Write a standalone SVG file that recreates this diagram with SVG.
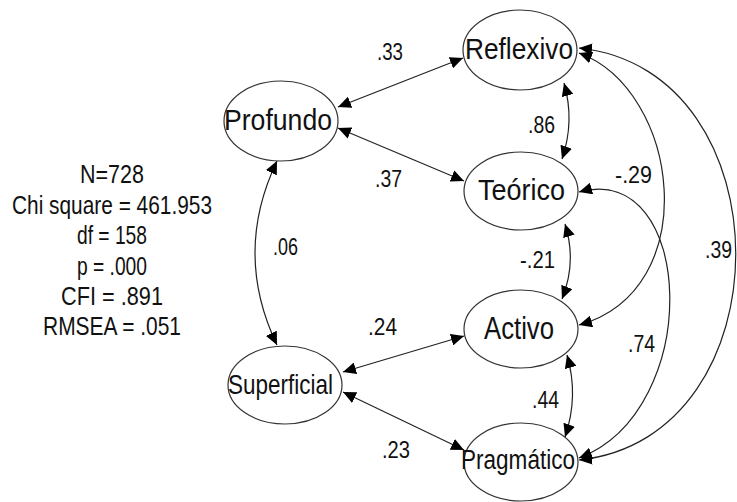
<svg xmlns="http://www.w3.org/2000/svg" width="737" height="502" viewBox="0 0 737 502">
<defs>
<marker id="ah" markerUnits="userSpaceOnUse" markerWidth="14" markerHeight="12" refX="13" refY="6" orient="auto-start-reverse">
<path d="M0,0 L13,6 L0,12 z" fill="#000"/>
</marker>
<style>
.n ellipse{fill:#fff;stroke:#333;stroke-width:1.2}
text{font-family:"Liberation Sans",Arial,sans-serif;fill:#111}
.lbl{text-anchor:start}
.num{font-size:23px}
.st{font-size:26px;text-anchor:middle}
.c path{fill:none;stroke:#222;stroke-width:1.2;marker-start:url(#ah);marker-end:url(#ah)}
</style>
</defs>
<rect width="737" height="502" fill="#fff"/>
<g id="stats">
<text class="st" x="112" y="183" textLength="64" lengthAdjust="spacingAndGlyphs">N=728</text>
<text class="st" x="112" y="213.5" textLength="200" lengthAdjust="spacingAndGlyphs">Chi square = 461.953</text>
<text class="st" x="112" y="244" textLength="70" lengthAdjust="spacingAndGlyphs">df = 158</text>
<text class="st" x="112" y="274.5" textLength="70" lengthAdjust="spacingAndGlyphs">p = .000</text>
<text class="st" x="112" y="305" textLength="102" lengthAdjust="spacingAndGlyphs">CFI = .891</text>
<text class="st" x="112" y="335" textLength="138" lengthAdjust="spacingAndGlyphs">RMSEA = .051</text>
</g>
<g class="c" id="connectors">
<path d="M338,107 L463,58"/>
<path d="M338,128 L464,181"/>
<path d="M343,372 L464,336"/>
<path d="M343,392 L464,450"/>
<path d="M277,161 Q233,253 277,345"/>
<path d="M564,83 Q575,121 562,159"/>
<path d="M565,224 Q577,262 562,299"/>
<path d="M567,355 Q579,396 565,437"/>
<path d="M579,53 C680,90 705,290 579,325"/>
<path d="M579,48 C788,70 788,438 579,460"/>
<path d="M579,192 C695,160 705,410 579,458"/>
</g>
<g id="Reflexivo" class="n"><ellipse cx="520" cy="50" rx="57" ry="40"/><text class="lbl" x="465" y="59" font-size="29" textLength="108" lengthAdjust="spacingAndGlyphs">Reflexivo</text></g>
<g id="Profundo" class="n"><ellipse cx="281" cy="121" rx="57" ry="40"/><text class="lbl" x="224" y="130" font-size="30" textLength="108" lengthAdjust="spacingAndGlyphs">Profundo</text></g>
<g id="Teorico" class="n"><ellipse cx="521" cy="191" rx="57" ry="39"/><text class="lbl" x="478" y="200" font-size="30" textLength="87" lengthAdjust="spacingAndGlyphs">Teórico</text></g>
<g id="Activo" class="n"><ellipse cx="521" cy="329" rx="57" ry="39"/><text class="lbl" x="484" y="339" font-size="31" textLength="70" lengthAdjust="spacingAndGlyphs">Activo</text></g>
<g id="Superficial" class="n"><ellipse cx="285" cy="385" rx="57" ry="39"/><text class="lbl" x="228" y="394" font-size="28" textLength="105" lengthAdjust="spacingAndGlyphs">Superficial</text></g>
<g id="Pragmatico" class="n"><ellipse cx="521" cy="462" rx="57" ry="39"/><text class="lbl" x="461" y="469" font-size="27" textLength="114" lengthAdjust="spacingAndGlyphs">Pragmático</text></g>
<g id="labels">
<text class="num" x="377" y="60" textLength="26" lengthAdjust="spacingAndGlyphs">.33</text>
<text class="num" x="528" y="133" textLength="27" lengthAdjust="spacingAndGlyphs">.86</text>
<text class="num" x="375" y="187" textLength="27" lengthAdjust="spacingAndGlyphs">.37</text>
<text class="num" x="615" y="183" textLength="37" lengthAdjust="spacingAndGlyphs">-.29</text>
<text class="num" x="705" y="258" textLength="27" lengthAdjust="spacingAndGlyphs">.39</text>
<text class="num" x="628" y="352" textLength="27" lengthAdjust="spacingAndGlyphs">.74</text>
<text class="num" x="273" y="255" textLength="25" lengthAdjust="spacingAndGlyphs">.06</text>
<text class="num" x="520" y="268" textLength="35" lengthAdjust="spacingAndGlyphs">-.21</text>
<text class="num" x="368" y="335" textLength="29" lengthAdjust="spacingAndGlyphs">.24</text>
<text class="num" x="532" y="408" textLength="27" lengthAdjust="spacingAndGlyphs">.44</text>
<text class="num" x="382" y="458" textLength="28" lengthAdjust="spacingAndGlyphs">.23</text>
</g>
</svg>
